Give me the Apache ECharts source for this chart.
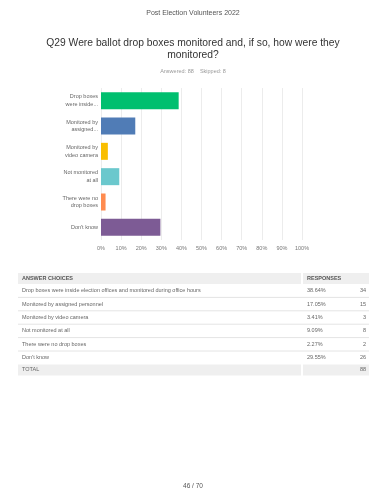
<!DOCTYPE html>
<html>
<head>
<meta charset="utf-8">
<script src="https://cdn.jsdelivr.net/npm/echarts@6/dist/echarts.min.js"></script>
<style>
  html, body { margin: 0; padding: 0; background: #fff; }
  #chart { width: 386px; height: 500px; }
</style>
</head>
<body>
<div id="chart"></div>
<script>
  // axis labels (short, as shown next to bars)
  const shortLabels = ['Drop boxes\nwere inside...', 'Monitored by\nassigned...', 'Monitored by\nvideo camera',
    'Not monitored\nat all', 'There were no\ndrop boxes', 'Don\'t know']
  // full answer texts for the table
  const answerChoices = ['Drop boxes were inside election offices and monitored during office hours',
    'Monitored by assigned personnel', 'Monitored by video camera', 'Not monitored at all',
    'There were no drop boxes', 'Don\'t know']
  const percents = [38.64, 17.05, 3.41, 9.09, 2.27, 29.55]
  const counts = [34, 15, 3, 8, 2, 26]
  const total = 88
  const skipped = 8
  const barColors = ['#00bf6f', '#507cb6', '#f9be00', '#6bc8cd', '#ff8b4f', '#7d5b95']

  const font = '"Liberation Sans", Arial, sans-serif'

  // table graphic, built from the arrays above
  let table = []
  const tLeft = 18, tRight = 369, tSplit = 303
  table.push({ type: 'rect', shape: { x: tLeft, y: 273, width: tSplit - tLeft - 2, height: 11 }, style: { fill: '#efefef' } })
  table.push({ type: 'rect', shape: { x: tSplit, y: 273, width: tRight - tSplit, height: 11 }, style: { fill: '#efefef' } })
  table.push({ type: 'text', x: 22, y: 278.5, style: { text: 'ANSWER CHOICES', font: 'bold 5.5px ' + font, fill: '#555', verticalAlign: 'middle' } })
  table.push({ type: 'text', x: 307, y: 278.5, style: { text: 'RESPONSES', font: 'bold 5.5px ' + font, fill: '#555', verticalAlign: 'middle' } })
  const rowH = 13.4
  answerChoices.forEach(function (a, i) {
    let y0 = 284 + i * rowH
    let cy = y0 + rowH / 2
    table.push({ type: 'text', x: 22, y: cy, style: { text: a, font: '5.5px ' + font, fill: '#666', verticalAlign: 'middle' } })
    table.push({ type: 'text', x: 307, y: cy, style: { text: percents[i].toFixed(2) + '%', font: '5.5px ' + font, fill: '#666', verticalAlign: 'middle' } })
    table.push({ type: 'text', x: 366, y: cy, style: { text: String(counts[i]), font: '5.5px ' + font, fill: '#666', verticalAlign: 'middle', align: 'right' } })
    if (i < answerChoices.length - 1) {
      table.push({ type: 'line', shape: { x1: tLeft, y1: y0 + rowH, x2: tRight, y2: y0 + rowH }, style: { stroke: '#e4e4e4', lineWidth: 1 } })
    }
  })
  let ty = 284 + answerChoices.length * rowH
  table.push({ type: 'rect', shape: { x: tLeft, y: ty, width: tSplit - tLeft - 2, height: 11 }, style: { fill: '#efefef' } })
  table.push({ type: 'rect', shape: { x: tSplit, y: ty, width: tRight - tSplit, height: 11 }, style: { fill: '#efefef' } })
  table.push({ type: 'text', x: 22, y: ty + 5.5, style: { text: 'TOTAL', font: '5.5px ' + font, fill: '#666', verticalAlign: 'middle' } })
  table.push({ type: 'text', x: 366, y: ty + 5.5, style: { text: String(total), font: '5.5px ' + font, fill: '#666', verticalAlign: 'middle', align: 'right' } })

  // question title, two centred lines
  table.push({ type: 'text', x: 193, y: 43.5, style: { text: 'Q29 Were ballot drop boxes monitored and, if so, how were they', font: '10.3px ' + font, fill: '#333', align: 'center', verticalAlign: 'middle' } })
  table.push({ type: 'text', x: 193, y: 55.5, style: { text: 'monitored?', font: '10.3px ' + font, fill: '#333', align: 'center', verticalAlign: 'middle' } })

  let options = {
    backgroundColor: '#fff',
    animation: false,
    title: [
      { text: 'Post Election Volunteers 2022', left: 'center', top: 9.5, padding: 0, textStyle: { fontFamily: font, fontSize: 7, fontWeight: 'normal', color: '#555' } },
      { text: 'Answered: ' + total + '    Skipped: ' + skipped, left: 'center', top: 68, padding: 0, textStyle: { fontFamily: font, fontSize: 5.5, fontWeight: 'normal', color: '#999' } },
      { text: '46 / 70', left: 'center', top: 483, padding: 0, textStyle: { fontFamily: font, fontSize: 6.5, fontWeight: 'normal', color: '#555' } }
    ],
    grid: { left: 101, right: 84, top: 88, bottom: 260 },
    xAxis: {
      type: 'value', min: 0, max: 100, interval: 10,
      axisLine: { show: false }, axisTick: { show: false },
      splitLine: { lineStyle: { color: '#ececec', width: 1 } },
      axisLabel: { formatter: '{value}%', fontFamily: font, fontSize: 5.5, color: '#777', margin: 5 }
    },
    yAxis: {
      type: 'category', inverse: true, data: shortLabels,
      axisLine: { show: false }, axisTick: { show: false },
      axisLabel: { fontFamily: font, fontSize: 5.5, color: '#666', lineHeight: 7.5, margin: 3 }
    },
    series: [{
      type: 'bar',
      barWidth: 17,
      data: percents.map(function (v, i) { return { value: v, itemStyle: { color: barColors[i] } } })
    }],
    graphic: table
  }

  let mycharts = echarts.init(document.getElementById('chart'))
  mycharts.setOption(options)
</script>
</body>
</html>
